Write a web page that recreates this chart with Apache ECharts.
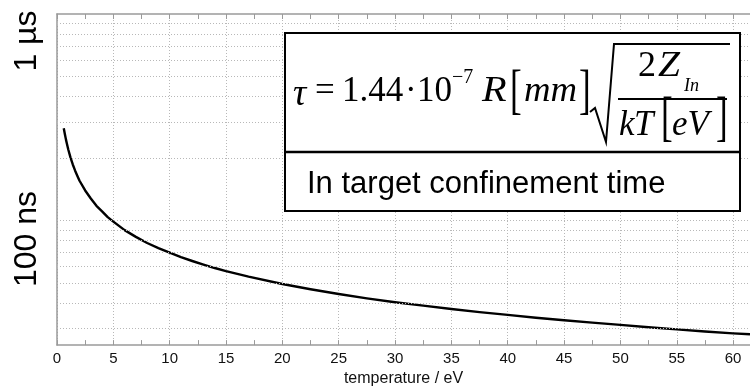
<!DOCTYPE html>
<html><head><meta charset="utf-8">
<script src="https://cdn.jsdelivr.net/npm/echarts/dist/echarts.min.js"></script>
<style>html,body{margin:0;padding:0;background:#fff}#c{width:750px;height:392px}</style>
</head><body><div id="c"></div>
<script>
// temperature in eV, confinement time in ns
const temperatures = [0.6, 0.7, 0.8, 0.9, 1, 1.2, 1.4, 1.6, 1.8, 2, 2.5, 3, 3.5, 4, 4.5, 5, 6, 7, 8, 9, 10, 11, 12, 13, 14, 15, 17, 20, 22.5, 25, 27.5, 30, 32.5, 35, 37.5, 40, 42.5, 45, 47.5, 50, 52.5, 55, 57.5, 60, 61.5];
const tauNs        = [280, 262, 246, 233, 221, 202, 187, 175, 165, 156, 140, 128, 118, 111, 104, 99, 90, 83.5, 78, 73.7, 70, 66.6, 63.8, 61.3, 59, 57, 53.6, 49.4, 46.6, 44.2, 42.1, 40.3, 38.8, 37.4, 36.1, 35, 33.9, 33, 32.1, 31.3, 30.5, 29.8, 29.1, 28.5, 28.2];
const yGridNs = [30, 40, 50, 60, 70, 80, 90, 100, 200, 300, 400, 500, 600, 700, 800, 900];
const yLabelTexts = ['1 µs', '100 ns'];
const xAxisName = 'temperature / eV';
const boxCaption = 'In target confinement time';

const seriesData = temperatures.map((t, i) => [t, tauNs[i]]);
const serif = '"Liberation Serif", "Times New Roman", serif';
const sans = '"Liberation Sans", Arial, sans-serif';
const gray = '#9a9a9a';

function T(text, x, y, size, italic, opts) {
  opts = opts || {};
  const fam = opts.fam || serif;
  const align = opts.align || 'left';
  const el = {
    type: 'text', x: x, y: y, z: 100,
    style: {
      text: text, x: 0, y: 0,
      font: (italic ? 'italic ' : '') + size + 'px ' + fam,
      fill: '#000', align: align, verticalAlign: 'middle',
      textAlign: align, textVerticalAlign: 'middle'
    }
  };
  if (opts.rotation) el.rotation = opts.rotation;
  if (opts.scaleX) el.scaleX = opts.scaleX;
  return el;
}

const F = 35;
const graphics = [
  {type: 'rect', z: 90, shape: {x: 285, y: 33, width: 455, height: 178},
   style: {fill: '#fff', stroke: '#000', lineWidth: 2}},
  {type: 'line', z: 95, shape: {x1: 285, y1: 152, x2: 740, y2: 152},
   style: {stroke: '#000', lineWidth: 2.5}},
  T('τ', 293, 95, F + 2, true),
  T('=', 315, 92, F, false),
  T('1.44', 342, 92, F, false),
  T('·', 405, 92, F, false),
  T('10', 417, 92, F, false),
  T('−7', 452, 78, 20, false),
  T('R', 482, 92, F, true, {scaleX: 1.15}),
  T('[', 510, 94, 54, false, {scaleX: 0.65}),
  T('mm', 524, 92, F, true, {scaleX: 1.05}),
  T(']', 579, 94, 54, false, {scaleX: 0.65}),
  {type: 'polyline', z: 100, shape: {points: [[590, 112], [595, 108], [606, 142], [614, 44], [730, 44]]},
   style: {stroke: '#000', lineWidth: 2, fill: null}},
  T('2', 638, 67, F + 1, false),
  T('Z', 658, 67, F + 1, true, {scaleX: 1.1}),
  T('In', 684, 86, 18, true),
  {type: 'line', z: 100, shape: {x1: 618, y1: 99, x2: 727, y2: 99}, style: {stroke: '#000', lineWidth: 2}},
  T('k', 619, 126, F, true),
  T('T', 634, 126, F, true),
  T('[', 661, 121, 54, false, {scaleX: 0.65}),
  T('eV', 672, 126, F, true),
  T(']', 716, 121, 54, false, {scaleX: 0.65}),
  T(boxCaption, 307, 184, 31, false, {fam: sans}),
  T(yLabelTexts[0], 27, 41, 32, false, {fam: sans, align: 'center', rotation: Math.PI / 2}),
  T(yLabelTexts[1], 27, 239, 32, false, {fam: sans, align: 'center', rotation: Math.PI / 2})
];

const chart = echarts.init(document.getElementById('c'), null, {renderer: 'canvas'});
chart.setOption({
  animation: false,
  backgroundColor: '#fff',
  grid: {left: 57, top: 14, right: 0, bottom: 38, containLabel: false},
  xAxis: [{
    type: 'value', min: 0, max: 61.5, interval: 5, position: 'bottom',
    name: xAxisName, nameLocation: 'middle', nameGap: 25,
    nameTextStyle: {fontFamily: sans, fontSize: 16, color: '#111'},
    axisLine: {show: true, lineStyle: {color: gray, width: 1.5}},
    axisTick: {show: true, inside: true, length: 5, lineStyle: {color: gray, width: 1}},
    minorTick: {show: true, splitNumber: 2, length: 5, lineStyle: {color: gray, width: 1}},
    axisLabel: {show: true, margin: 6, fontFamily: sans, fontSize: 15, color: '#111', showMaxLabel: false, hideOverlap: false},
    splitLine: {show: true, lineStyle: {color: '#b8b8b8', width: 1, type: [1, 2]}},
    minorSplitLine: {show: false}
  }, {
    type: 'value', min: 0, max: 61.5, interval: 5, position: 'top',
    axisLine: {show: true, onZero: false, lineStyle: {color: gray, width: 1.5}},
    axisTick: {show: true, inside: true, length: 5, lineStyle: {color: gray, width: 1}},
    minorTick: {show: true, splitNumber: 2, length: 5, lineStyle: {color: gray, width: 1}},
    axisLabel: {show: false},
    splitLine: {show: false}
  }],
  yAxis: {
    type: 'log', logBase: 10, min: 25, max: 1000,
    axisLine: {show: true, onZero: false, lineStyle: {color: gray, width: 1.5}},
    axisTick: {show: false},
    axisLabel: {show: false},
    splitLine: {show: false}
  },
  series: [{
    type: 'line', xAxisIndex: 0, data: seriesData,
    smooth: false, showSymbol: false, symbol: 'none',
    lineStyle: {color: '#000', width: 2.4, join: 'round'},
    markLine: {
      silent: true, symbol: ['none', 'none'], label: {show: false},
      lineStyle: {color: '#b8b8b8', width: 1, type: [1, 2]},
      data: yGridNs.map(v => ({yAxis: v}))
    }
  }],
  graphic: graphics
});
</script></body></html>
